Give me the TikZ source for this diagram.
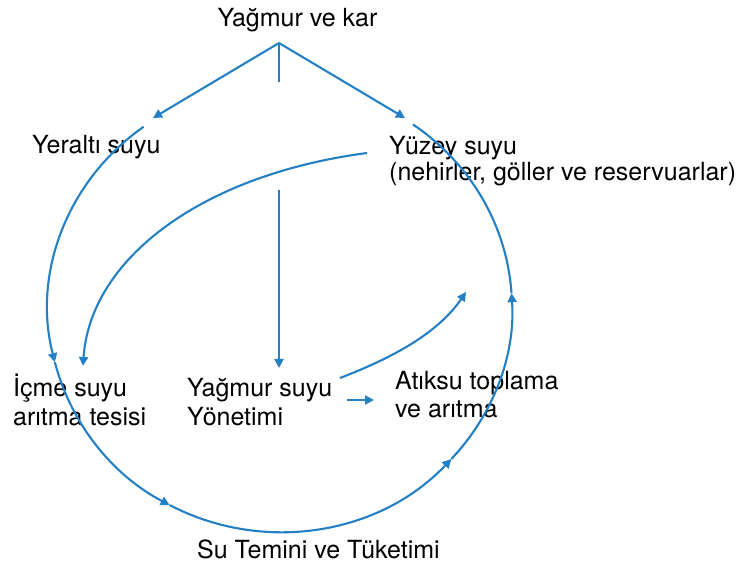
\documentclass[tikz,border=0pt]{standalone}
\usepackage{fontspec}
\setmainfont{TeX Gyre Heros}
\usetikzlibrary{arrows.meta}
\definecolor{flow}{RGB}{35,128,196}
\begin{document}
\begin{tikzpicture}[x=1pt,y=1pt,
  conn/.style={draw=flow, line width=2.1pt},
  arr/.style={conn, -{Triangle[length=9pt,width=9pt]}},
  lbl/.style={anchor=base west, inner sep=0pt, text=black, font=\fontsize{25}{27}\selectfont},
]
\useasboundingbox (0,0) rectangle (740,566);
% labels
\node[lbl, anchor=base] (rain) at (297.5,539) {Yağmur ve kar};
\node[lbl] (yeralti) at (32,412) {Yeraltı suyu};
\node[lbl, font=\fontsize{25}{25}\selectfont] (yuzey) at (389,411) {\begin{tabular}[t]{@{}l@{}}Yüzey suyu\\(nehirler, göller ve reservuarlar)\end{tabular}};
\node[lbl, font=\fontsize{25}{28}\selectfont] (icme) at (13,169) {\begin{tabular}[t]{@{}l@{}}İçme suyu\\arıtma tesisi\end{tabular}};
\node[lbl, font=\fontsize{25}{28}\selectfont] (ysuyu) at (187,169) {\begin{tabular}[t]{@{}l@{}}Yağmur suyu\\Yönetimi\end{tabular}};
\node[lbl] (atiksu) at (395,176) {\begin{tabular}[t]{@{}l@{}}Atıksu toplama\\ve arıtma\end{tabular}};
\node[lbl] (temin) at (197,8) {Su Temini ve Tüketimi};
% connector ends
\coordinate (v) at (279,523);
\coordinate (vs) at (279,484);
\coordinate (yl) at (153,448);
\coordinate (yz) at (405,448);
\coordinate (d1) at (279,376);
\coordinate (d2) at (279,198);
\coordinate (c1) at (367,413);
\coordinate (c1e) at (83,200);
\coordinate (c2) at (340,188);
\coordinate (c2e) at (466,274);
\coordinate (s1) at (347,166);
\coordinate (s2) at (374,166);
\coordinate (o) at (280,258);
% split from rain
\draw[conn] (v) -- (vs);
\draw[arr] (v) -- (yl);
\draw[arr] (v) -- (yz);
% central arrows
\draw[arr] (d1) -- (d2);
\draw[arr] (c1) .. controls (200,391) and (90,306) .. (c1e);
\draw[arr] (c2) .. controls (400,211) and (440,236) .. (c2e);
\draw[arr] (s1) -- (s2);
% big loop
\foreach \a/\b in {126/194,194/241.6,241.6/317.6,317.6/363.8}{
  \draw[arr] ([shift={(\a:232pt and 224pt)}]o) arc[start angle=\a, end angle=\b, x radius=232pt, y radius=224pt];
}
\draw[conn] ([shift={(363.8:232pt and 224pt)}]o) arc[start angle=363.8, end angle=415, x radius=232pt, y radius=224pt];
\end{tikzpicture}
\end{document}
